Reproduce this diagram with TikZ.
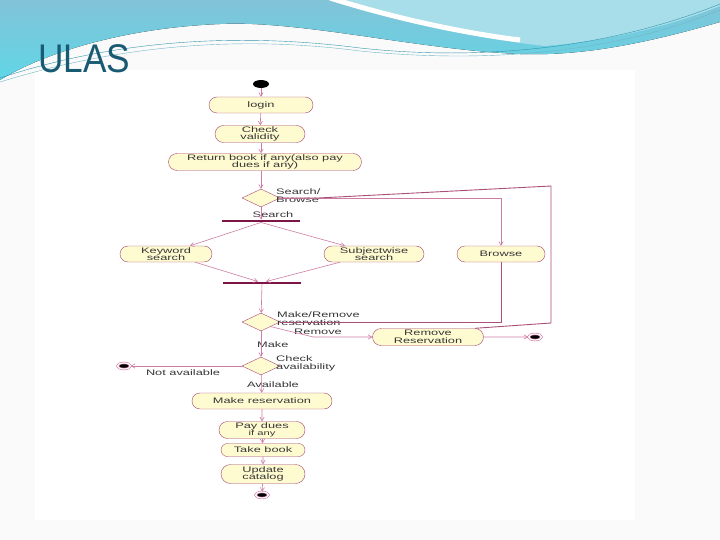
\documentclass[tikz,border=0pt]{standalone}
\usepackage{fontspec}
\usepackage{tikz}
\usetikzlibrary{shapes.geometric, shapes.misc, arrows}
\usepackage{xcolor}
\newfontfamily\umlfont[FakeStretch=1.6]{Liberation Sans}
\newfontfamily\titlefont[FakeStretch=0.88]{Liberation Sans}
\definecolor{actfill}{RGB}{255,251,208}
\definecolor{actborder}{RGB}{165,70,115}
\definecolor{linecolor}{RGB}{205,125,165}
\definecolor{loopcolor}{RGB}{170,80,120}
\definecolor{barcolor}{RGB}{125,20,70}
\definecolor{textcolor}{RGB}{55,55,55}
\definecolor{titlecolor}{RGB}{25,90,115}
\definecolor{wavemid}{RGB}{130,195,216}
\definecolor{wavecyan}{RGB}{95,214,230}
\definecolor{wavelight}{RGB}{168,222,234}
\definecolor{waveline}{RGB}{50,150,175}

\begin{document}
\begin{tikzpicture}[
    x=1pt, y=-1pt,
    umltext/.style={font=\umlfont\fontsize{8}{7.5}\selectfont, text=textcolor},
    activity/.style={rounded rectangle, draw=actborder, fill=actfill, umltext, align=center, inner sep=1pt, minimum height=16},
    decision/.style={diamond, draw=actborder, fill=actfill, minimum width=38, minimum height=18, inner sep=0},
    bar/.style={rectangle, fill=barcolor, minimum width=78, minimum height=2.5, inner sep=0},
    startnode/.style={ellipse, fill=black, minimum width=16, minimum height=8, inner sep=0},
    endnode/.style={ellipse, fill=black, draw=linecolor, line width=0.6, double=white, double distance=1.2, minimum width=13, minimum height=6, inner sep=0},
    guard/.style={umltext, align=left, inner sep=0},
    flow/.style={->, >=angle 60, draw=linecolor, line width=0.6},
    loopline/.style={draw=loopcolor, line width=0.9}
]
    \useasboundingbox (0,0) rectangle (720,540);

    % slide background
    \fill[gray!4] (0,0) rectangle (720,540);
    \fill[white] (35,70) rectangle (635,520);
    \fill[top color=wavemid, bottom color=wavecyan] (0,0) -- (720,0) -- (720,22)
        .. controls (640,45) and (580,56) .. (520,54)
        .. controls (420,50) and (300,20) .. (220,24)
        .. controls (120,28) and (40,55) .. (0,80) -- cycle;
    \fill[wavelight] (330,0) .. controls (400,20) and (470,38) .. (545,46)
        .. controls (620,40) and (680,22) .. (720,6) -- (720,0) -- cycle;
    \draw[white, line width=5] (330,-2) .. controls (400,20) and (470,34) .. (520,40);
    \draw[waveline, thin] (0,78) .. controls (100,45) and (220,30) .. (360,48)
        .. controls (470,60) and (600,52) .. (720,4);
    \draw[waveline!70, thin] (0,82) .. controls (110,48) and (230,34) .. (360,51)
        .. controls (480,63) and (610,55) .. (720,10);
    \node[font=\titlefont\fontsize{40}{40}\selectfont, text=titlecolor, anchor=base west, inner sep=0] (title) at (38,73) {ULAS};

    % main column
    \node[startnode] (start) at (261,84) {};
    \node[activity, minimum width=106] (login) at (261,105) {login};
    \node[activity, minimum width=92, minimum height=17] (check) at (260,134) {Check\\validity};
    \node[activity, minimum width=195, minimum height=17] (ret) at (265,162) {Return book if any(also pay\\dues if any)};
    \node[decision] (dec1) at (261,198) {};
    \node[guard, anchor=west] (lblbrowse) at (276,195.5) {Search/\\Browse};
    \node[bar] (bar1) at (261,221) {};
    \node[guard] (lblsearch) at (273,215) {Search};

    % search branches
    \node[activity, minimum width=94] (kw) at (166,254) {Keyword\\search};
    \node[activity, minimum width=102] (subj) at (374,254) {Subjectwise\\search};
    \node[activity, minimum width=90] (browse) at (501,254) {Browse};
    \node[bar] (bar2) at (262,283) {};

    % reservation
    \node[decision] (dec2) at (261,322) {};
    \node[guard, anchor=west] (lblmr) at (277,318.5) {Make/Remove\\reservation};
    \node[activity, minimum width=113, minimum height=17] (remres) at (428,337) {Remove\\Reservation};
    \node[endnode] (end1) at (535,337) {};
    \node[guard] (lblremove) at (318,332) {Remove};
    \node[guard, anchor=west] (lblmake) at (257,345) {Make};
    \node[decision] (dec3) at (261,366) {};
    \node[guard, anchor=west] (lblcheck) at (276,363.5) {Check\\availability};
    \node[endnode] (end2) at (124,366) {};
    \node[guard] (lblnot) at (183,373) {Not available};
    \node[guard] (lblavail) at (273,385) {Available};

    % bottom chain
    \node[activity, minimum width=142] (make) at (262,401) {Make reservation};
    \node[activity, minimum width=88, minimum height=17] (pay) at (262,430) {Pay dues\\{\fontsize{7}{7}\selectfont if any}};
    \node[activity, minimum width=86, minimum height=13] (take) at (263,450) {Take book};
    \node[activity, minimum width=86, minimum height=19] (upd) at (263,474) {Update\\catalog};
    \node[endnode] (end3) at (262,495) {};

    % loop corners
    \coordinate (loopA) at (551,186);
    \coordinate (loopB) at (551,323);

    % transitions
    \draw[flow] (start) -- (login);
    \draw[flow] (login) -- (check);
    \draw[flow] (check.south -| login) -- (ret.north -| login);
    \draw[flow] (ret.south -| dec1) -- (dec1.north);
    \draw[flow] (dec1) -- (bar1);
    \draw[flow] (bar1.south) -- ([xshift=24]kw.north);
    \draw[flow] (bar1.south) -- ([xshift=-29]subj.north);
    \draw[flow] ([xshift=29]kw.south) -- ([xshift=-4]bar2.north);
    \draw[flow] ([xshift=-34]subj.south) -- ([xshift=4]bar2.north);
    \draw[flow] (dec1.east) -| (browse.north);
    \draw[flow] (bar2) -- (dec2);
    \draw[loopline] (dec1.east) -- ++(38,0) -- (loopA) -- (loopB) -- (remres.north east);
    \draw[loopline] (browse.south) |- (dec2.east);
    \draw[flow] (dec2.south east) -- ([xshift=-59]remres.west) -- (remres.west);
    \draw[flow] (remres) -- (end1);
    \draw[flow] (dec2) -- (dec3);
    \draw[flow] (dec3) -- (end2);
    \draw[flow] (dec3) -- (make);
    \draw[flow] (make) -- (pay);
    \draw[flow] (pay) -- (take);
    \draw[flow] (take) -- (upd);
    \draw[flow] (upd) -- (end3);

\end{tikzpicture}
\end{document}
